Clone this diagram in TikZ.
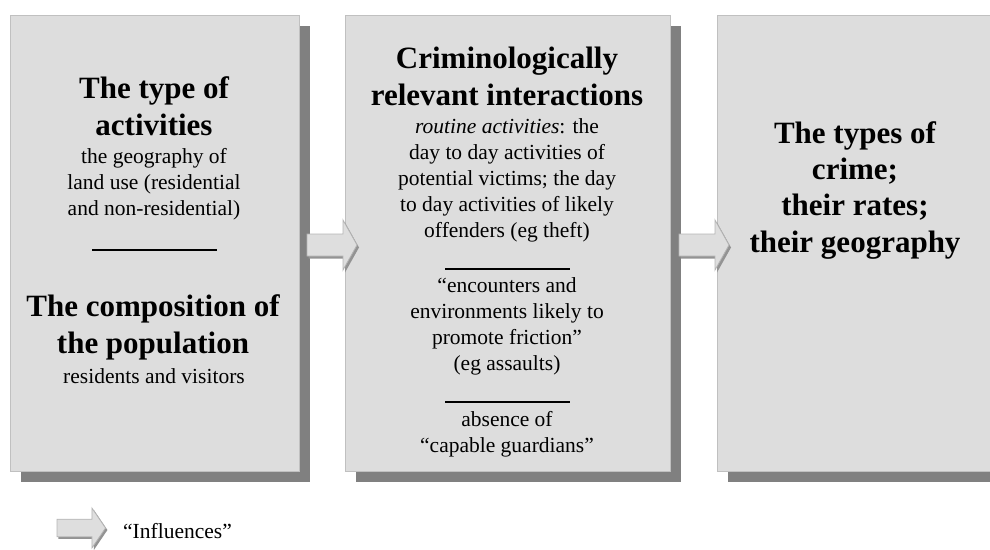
\documentclass[tikz,border=0pt]{standalone}
\usepackage{fontspec}
\setmainfont{Liberation Serif}
\usetikzlibrary{shadows}
\definecolor{boxfill}{HTML}{DDDDDD}
\definecolor{boxline}{HTML}{C0C0C0}
\definecolor{shadowgray}{HTML}{808080}
\definecolor{arrowfill}{HTML}{DEDEDE}
\definecolor{arrowline}{HTML}{B4B4B4}
\begin{document}
\begin{tikzpicture}[x=1pt,y=-1pt,
  box/.style={fill=boxfill,draw=boxline,line width=1pt,anchor=north west,inner sep=0pt,
    drop shadow={shadow xshift=10pt,shadow yshift=-10pt,fill=shadowgray,opacity=1}},
  bigt/.style={font=\fontsize{31}{36.3}\selectfont\bfseries,align=center,anchor=base,inner sep=0pt},
  smallt/.style={font=\fontsize{21.5}{25.8}\selectfont,align=center,anchor=base,inner sep=0pt},
  seprule/.style={line width=1.2pt,black},
  barrow/.pic={
    \fill[shadowgray!85] (1.5,-8.5) -- (38,-8.5) -- (38,-22.5) -- (52,2.5) -- (38,27.5) -- (38,13.5) -- (1.5,13.5) -- cycle;
    \draw[fill=arrowfill,draw=arrowline,line width=0.8pt] (0,-11) -- (36,-11) -- (36,-25) -- (50,0) -- (36,25) -- (36,11) -- (0,11) -- cycle;
  }]
\useasboundingbox (0,0) rectangle (990,549);
\clip (0,0) rectangle (990,549);

% boxes
\node[box,minimum width=289pt,minimum height=456pt] (b1) at (10,15) {};
\node[box,minimum width=325pt,minimum height=456pt] (b2) at (345,15) {};
\node[box,minimum width=285pt,minimum height=456pt] (b3) at (717,15) {};

% box 1 text (anchor = baseline of last line)
\node[bigt] (t1) at (154,135) {The type of\\activities};
\node[smallt] (s1) at (154,215) {the geography of\\land use (residential\\and non-residential)};
\draw[seprule] (92,250) -- (217,250);
\node[bigt] (t2) at (153,353) {The composition of\\the population};
\node[smallt] (s2) at (154,383) {residents and visitors};

% box 2 text
\node[bigt] (t3) at (507,105) {Criminologically\\relevant interactions};
\node[smallt] (s3) at (507,237) {\textit{routine activities}: the\\day to day activities of\\potential victims; the day\\to day activities of likely\\offenders (eg theft)};
\draw[seprule] (445,269) -- (570,269);
\node[smallt] (s4) at (507,370) {“encounters and\\environments likely to\\promote friction”\\(eg assaults)};
\draw[seprule] (445,402) -- (570,402);
\node[smallt] (s5) at (507,452) {absence of\\“capable guardians”};

% box 3 text
\node[bigt] (t4) at (855,252) {The types of\\crime;\\their rates;\\their geography};

% arrows
\pic at (307,245) {barrow};
\pic at (679,245) {barrow};

% legend
\pic[xscale=0.97,yscale=0.8] at (57,528) {barrow};
\node[smallt,anchor=base west] (leg) at (123,538) {“Influences”};
\end{tikzpicture}
\end{document}
